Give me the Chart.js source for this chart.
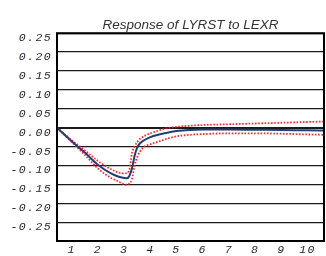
<!DOCTYPE html>
<html>
<head>
<meta charset="utf-8">
<script src="https://cdn.jsdelivr.net/npm/chart.js@4/dist/chart.umd.min.js"></script>
<style>
  html, body { margin: 0; padding: 0; background: #ffffff; }
  #wrap { width: 326px; height: 256px; }
</style>
</head>
<body>
<div id="wrap"><canvas id="c" width="326" height="256"></canvas></div>
<script>
// ---- data ----
const chartTitle = "Response of LYRST to LEXR";
const periodTicks = [1, 2, 3, 4, 5, 6, 7, 8, 9, 10];
// sample positions along the horizontal axis (periods)
const periods = [0.44, 1.0, 1.5, 2.0, 2.5, 2.8, 3.0, 3.1, 3.2, 3.3, 3.4, 3.5, 3.6, 3.8, 4.0, 4.3, 4.6, 5.0, 5.5, 6.0, 7.0, 8.0, 9.0, 10.0, 10.63];
// impulse response (solid line)
const response = [0, -0.036, -0.066, -0.098, -0.121, -0.130, -0.133, -0.134, -0.128, -0.108, -0.075, -0.053, -0.042, -0.032, -0.025, -0.019, -0.014, -0.009, -0.006, -0.005, -0.005, -0.0055, -0.006, -0.007, -0.0075];
// upper band (dotted)
const upperBand = [0, -0.033, -0.060, -0.088, -0.110, -0.119, -0.121, -0.120, -0.112, -0.068, -0.050, -0.038, -0.030, -0.021, -0.015, -0.008, -0.002, 0.002, 0.005, 0.007, 0.009, 0.011, 0.013, 0.015, 0.016];
// lower band (dotted)
const lowerBand = [0, -0.038, -0.072, -0.108, -0.133, -0.143, -0.150, -0.151, -0.148, -0.136, -0.100, -0.078, -0.064, -0.049, -0.044, -0.037, -0.030, -0.023, -0.019, -0.017, -0.015, -0.015, -0.016, -0.018, -0.019];
const yMin = -0.30, yMax = 0.25, yStep = 0.05;

const toPts = arr => periods.map((p, i) => ({ x: p, y: arr[i] }));

const tickFont = { family: "'Liberation Mono', 'DejaVu Sans Mono', monospace", size: 11.5, style: 'italic' };

const framePlugin = {
  id: 'frame',
  afterDatasetsDraw(chart) {
    const { ctx, chartArea: a } = chart;
    ctx.save();
    ctx.strokeStyle = '#000';
    ctx.lineWidth = 2;
    ctx.strokeRect(a.left, a.top, a.right - a.left, a.bottom - a.top);
    ctx.restore();
    // tick labels (drawn after datasets) get wide letter spacing
    ctx.letterSpacing = '1.4px';
  },
  afterDraw(chart) {
    chart.ctx.letterSpacing = '0px';
  }
};

new Chart(document.getElementById('c'), {
  type: 'line',
  data: {
    datasets: [
      { label: 'Response', data: toPts(response), borderColor: '#1f3f78', borderWidth: 2, pointRadius: 0, cubicInterpolationMode: 'monotone', fill: false },
      { label: 'Upper', data: toPts(upperBand), borderColor: 'rgba(255,20,20,0.9)', borderWidth: 1.8, borderDash: [1.6, 1.6], pointRadius: 0, cubicInterpolationMode: 'monotone', fill: false },
      { label: 'Lower', data: toPts(lowerBand), borderColor: 'rgba(255,20,20,0.9)', borderWidth: 1.8, borderDash: [1.6, 1.6], pointRadius: 0, cubicInterpolationMode: 'monotone', fill: false }
    ]
  },
  options: {
    responsive: false,
    animation: false,
    devicePixelRatio: 1,
    layout: { padding: { left: 0, right: 2, top: 0, bottom: 0 } },
    plugins: {
      legend: { display: false },
      tooltip: { enabled: false },
      title: {
        display: true,
        fullSize: false,
        text: chartTitle,
        color: '#333333',
        font: { family: "'Liberation Sans', Arial, sans-serif", size: 13.5, style: 'italic', weight: 'normal' },
        padding: { top: 17, bottom: 0 }
      }
    },
    scales: {
      x: {
        type: 'linear',
        min: periods[0],
        max: periods[periods.length - 1],
        afterBuildTicks: s => { s.ticks = periodTicks.map(v => ({ value: v })); },
        afterFit: s => { s.height = 15; },
        grid: { display: false, drawTicks: false },
        border: { display: false },
        ticks: { z: 1, color: '#2a2a3a', font: tickFont, padding: 2, maxRotation: 0, autoSkip: false, callback: v => String(v) }
      },
      y: {
        min: yMin,
        max: yMax,
        afterFit: s => { s.width = 57; },
        grid: {
          drawTicks: false,
          color: ctx => '#1a1a1a',
          lineWidth: ctx => (Math.abs(ctx.tick.value) < 1e-9 ? 2 : 1.2)
        },
        border: { display: false },
        ticks: {
          z: 1,
          stepSize: yStep,
          color: '#2a2a3a',
          font: tickFont,
          padding: 5,
          labelOffset: 5,
          callback: v => (v < yMin + 1e-9 ? '' : v.toFixed(2))
        }
      }
    }
  },
  plugins: [framePlugin]
});
</script>
</body>
</html>
